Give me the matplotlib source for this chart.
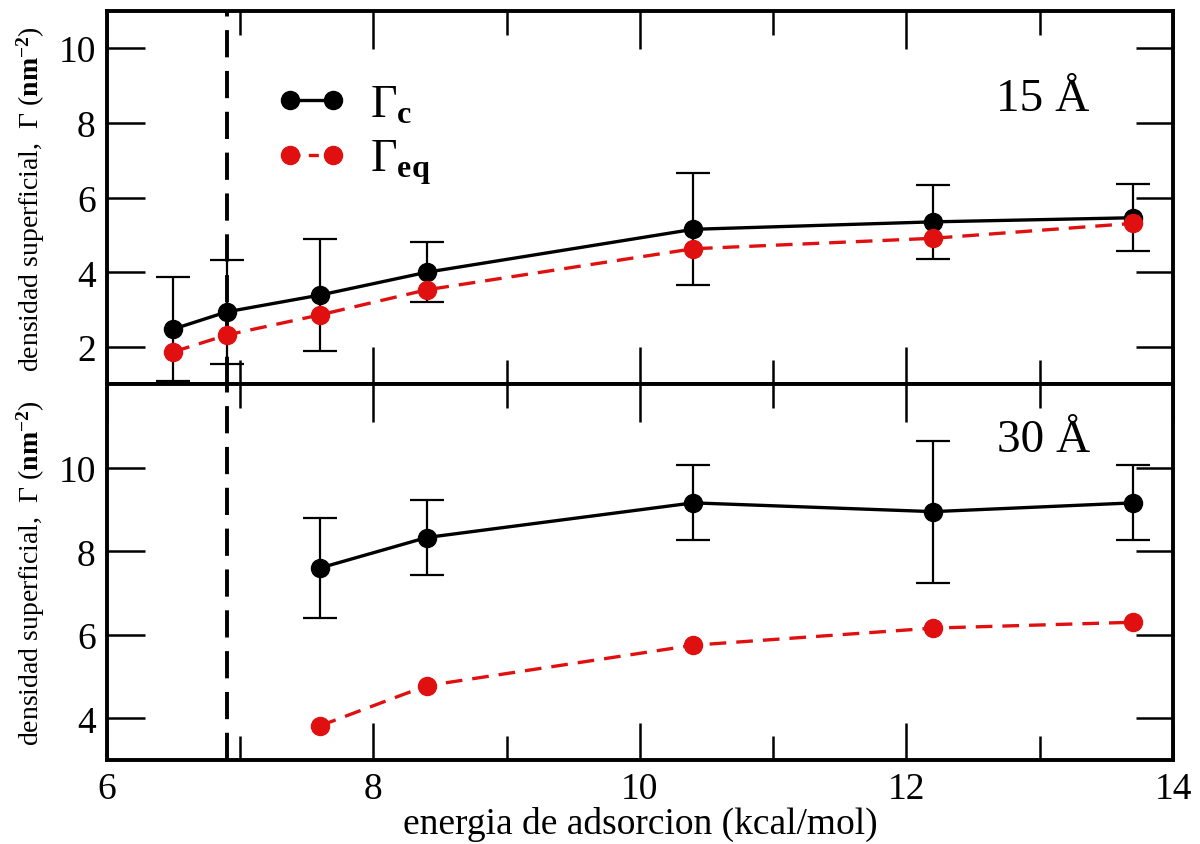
import matplotlib
matplotlib.use("Agg")
import matplotlib.pyplot as plt
from matplotlib.ticker import MultipleLocator, FixedLocator
from matplotlib.lines import Line2D

plt.rcParams['font.family'] = ['Liberation Serif', 'DejaVu Serif']
plt.rcParams['mathtext.fontset'] = 'custom'
plt.rcParams['mathtext.rm'] = 'Liberation Serif'
plt.rcParams['mathtext.bf'] = 'Liberation Serif:bold'
plt.rcParams['mathtext.it'] = 'Liberation Serif:italic'

# energia de adsorcion (kcal/mol)
energia_15 = [6.5, 6.9, 7.6, 8.4, 10.4, 12.2, 13.7]
gamma_c_15 = [2.48, 2.94, 3.39, 4.0, 5.15, 5.35, 5.46]
err_c_15 = [1.4, 1.4, 1.5, 0.8, 1.5, 1.0, 0.9]
gamma_eq_15 = [1.87, 2.32, 2.86, 3.53, 4.63, 4.91, 5.31]

energia_30 = [7.6, 8.4, 10.4, 12.2, 13.7]
gamma_c_30 = [7.6, 8.33, 9.16, 8.95, 9.16]
err_c_30 = [1.2, 0.9, 0.9, 1.7, 0.9]
gamma_eq_30 = [3.82, 4.78, 5.75, 6.16, 6.30]

e_critica = 6.9

red = "#e01010"
dash_red = (0, (5, 3))

fig = plt.figure(figsize=(12, 8.45), dpi=100)
ax1 = fig.add_axes([0.089, 0.544, 0.8885, 0.442])
ax2 = fig.add_axes([0.089, 0.0994, 0.8885, 0.4446], sharex=ax1)


def style(ax, yticks):
    for s in ax.spines.values():
        s.set_linewidth(2.8)
    ax.xaxis.set_major_locator(MultipleLocator(2))
    ax.xaxis.set_minor_locator(MultipleLocator(1))
    ax.yaxis.set_major_locator(FixedLocator(yticks))
    ax.tick_params(which='both', direction='in', top=True, right=True,
                   labelsize=27, width=1.8)
    ax.tick_params(which='major', length=27, pad=8)
    ax.tick_params(which='minor', length=17)
    ax.set_ylabel(r"densidad superficial,  $\Gamma$ ($\mathbf{nm^{-2}}$)",
                  fontsize=20, labelpad=8)


def draw(ax, x, yc, ec, yeq):
    ax.errorbar(x, yc, yerr=ec, fmt='none', ecolor='black', elinewidth=1.6,
                capsize=12, capthick=1.6, zorder=3)
    ax.plot(x, yc, color='black', lw=2.4, marker='o', ms=13, zorder=4)
    ax.plot(x, yeq, color=red, ls=dash_red, lw=2.4, marker='o', ms=13,
            zorder=5)
    ax.axvline(e_critica, color='black', ls=(0, (7, 3.5)), lw=2.8, zorder=2)


# panel 15 A
draw(ax1, energia_15, gamma_c_15, err_c_15, gamma_eq_15)
ax1.set_ylim(1, 11)
ax1.text(0.922, 0.765, "15 Å", transform=ax1.transAxes, fontsize=34,
         ha='right', va='center')
handles = [Line2D([], [], color='black', lw=2.4, marker='o', ms=13),
           Line2D([], [], color=red, ls=(0, (3, 2.5)), lw=2.4, marker='o',
                  ms=13)]
ax1.legend(handles, [r"$\Gamma_{\mathbf{c}}$", r"$\Gamma_{\mathbf{eq}}$"],
           loc='upper left', bbox_to_anchor=(0.12, 0.915), frameon=False,
           fontsize=33, numpoints=2, handlelength=1.55, labelspacing=0.25,
           handletextpad=0.5)
style(ax1, [2, 4, 6, 8, 10])
plt.setp(ax1.get_xticklabels(), visible=False)

# panel 30 A
draw(ax2, energia_30, gamma_c_30, err_c_30, gamma_eq_30)
ax2.set_ylim(3, 12)
ax2.set_xlim(6, 14)
ax2.text(0.922, 0.853, "30 Å", transform=ax2.transAxes, fontsize=34,
         ha='right', va='center')
style(ax2, [4, 6, 8, 10])
ax2.set_xlabel("energia de adsorcion (kcal/mol)", fontsize=27, labelpad=0)

fig.savefig("out.png", dpi=100)
